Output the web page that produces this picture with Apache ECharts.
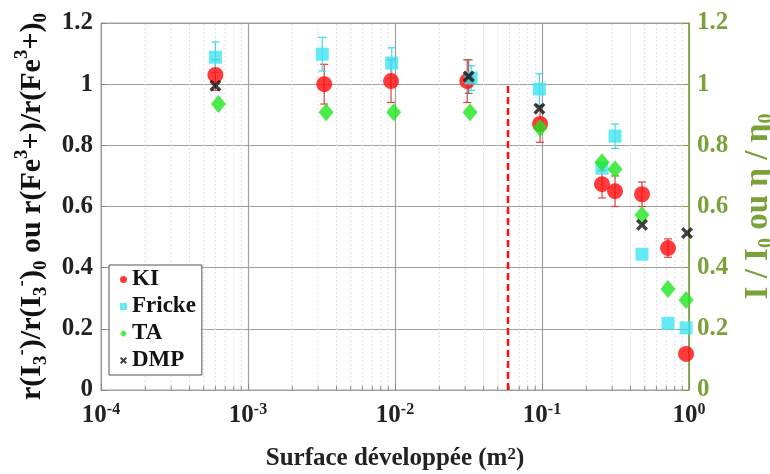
<!DOCTYPE html>
<html>
<head>
<meta charset="utf-8">
<script src="https://cdn.jsdelivr.net/npm/echarts@6/dist/echarts.min.js"></script>
<style>
html,body{margin:0;padding:0;background:#fff}
#main{width:770px;height:474px}
</style>
</head>
<body>
<div id="main"></div>
<script>
// valeurs
var kiX = [6.0e-4, 3.3e-3, 9.4e-3, 0.031, 0.097, 0.256, 0.314, 0.479, 0.72, 0.955];
var kiY = [1.03, 1.0, 1.01, 1.01, 0.87, 0.673, 0.65, 0.64, 0.464, 0.118];
var kiErr = [0.05, 0.065, 0.07, 0.07, 0.06, 0.045, 0.05, 0.04, 0.03, 0];

var frickeX = [6.0e-4, 3.2e-3, 9.5e-3, 0.033, 0.096, 0.256, 0.314, 0.479, 0.72, 0.955];
var frickeY = [1.088, 1.098, 1.069, 1.02, 0.984, 0.725, 0.83, 0.444, 0.218, 0.203];
var frickeErr = [0.05, 0.055, 0.05, 0.04, 0.05, 0, 0.04, 0, 0, 0];

var taX = [6.3e-4, 3.4e-3, 9.8e-3, 0.0324, 0.097, 0.256, 0.314, 0.479, 0.72, 0.955];
var taY = [0.935, 0.908, 0.908, 0.908, 0.857, 0.745, 0.722, 0.572, 0.33, 0.294];

var dmpX = [6.0e-4, 0.0317, 0.096, 0.479, 0.97];
var dmpY = [0.995, 1.025, 0.92, 0.54, 0.513];
var dmpErr = [0, 0.055, 0, 0, 0];

var limitX = 0.0587;     // trait rouge
var limitTop = 1.0;

var FONT = "'Liberation Serif', 'Times New Roman', serif";
var GREEN = '#7ba23a';
var GRID = '#a0a0a0';
var crossPath = 'path://M2,0L5,3L8,0L10,2L7,5L10,8L8,10L5,7L2,10L0,8L3,5L0,2Z';

function zip(xs, ys) {
	var out = [];
	for (var i = 0; i < xs.length; i++) out.push([xs[i], ys[i]]);
	return out;
}
function bars(xs, ys, es) {
	var out = [];
	for (var i = 0; i < xs.length; i++) {
		if (es[i] > 0) out.push([xs[i], ys[i] - es[i], ys[i] + es[i]]);
	}
	return out;
}
// graduations secondaires du log (2..9 x 10^k)
var minorTicks = [];
for (var k = -4; k < 0; k++) {
	for (var m = 2; m <= 9; m++) minorTicks.push([m * Math.pow(10, k), 0]);
}

function errorBar(color) {
	return function(params, api) {
		var top = api.coord([api.value(0), api.value(2)]);
		var bot = api.coord([api.value(0), api.value(1)]);
		var style = {stroke: color, lineWidth: 1.2};
		return {
			type: 'group',
			children: [
				{type: 'line', shape: {x1: top[0], y1: top[1], x2: bot[0], y2: bot[1]}, style: style},
				{type: 'line', shape: {x1: top[0] - 4, y1: top[1], x2: top[0] + 4, y2: top[1]}, style: style},
				{type: 'line', shape: {x1: bot[0] - 4, y1: bot[1], x2: bot[0] + 4, y2: bot[1]}, style: style}
			]
		};
	};
}

var myChart = echarts.init(document.getElementById('main'));

var option = {
	animation: false,
	backgroundColor: '#fff',
	grid: {left: 101, right: 81, top: 23, bottom: 84, show: true, borderColor: GRID, borderWidth: 1,
		outerBoundsMode: 'none', containLabel: false},
	legend: {
		orient: 'vertical',
		left: 109,
		top: 265,
		padding: [3, 6, 3, 11],
		itemGap: 4,
		itemWidth: 7,
		itemHeight: 7,
		itemTextGap: 13,
		borderColor: '#555',
		borderWidth: 1,
		backgroundColor: '#fff',
		selectedMode: false,
		textStyle: {fontFamily: FONT, fontWeight: 'bold', fontSize: 23, color: '#111'},
		data: [
			{name: 'KI', icon: 'circle'},
			{name: 'Fricke', icon: 'rect'},
			{name: 'TA', icon: 'diamond'},
			{name: 'DMP', icon: crossPath}
		]
	},
	xAxis: {
		type: 'log',
		logBase: 10,
		min: 1e-4,
		max: 1,
		name: 'Surface développée (m{sup|2})',
		nameLocation: 'middle',
		nameGap: 56,
		nameTextStyle: {
			fontFamily: FONT, fontWeight: 'bold', fontSize: 25, color: '#222',
			rich: {sup: {fontFamily: FONT, fontWeight: 'bold', fontSize: 17, verticalAlign: 'top', lineHeight: 14, color: '#222'}}
		},
		axisLine: {lineStyle: {color: GRID}},
		axisTick: {inside: true, length: 6, lineStyle: {color: '#888'}},
		splitLine: {show: true, lineStyle: {color: GRID, width: 1.2}},
		axisLabel: {
			margin: 12,
			formatter: function(v) {
				var e = Math.round(Math.log(v) / Math.LN10);
				return '{b|10}{e|' + e + '}';
			},
			rich: {
				b: {fontFamily: FONT, fontWeight: 'bold', fontSize: 25, color: '#222', lineHeight: 28},
				e: {fontFamily: FONT, fontWeight: 'bold', fontSize: 16, color: '#222', verticalAlign: 'top', lineHeight: 14}
			}
		}
	},
	yAxis: [{
		type: 'value',
		min: 0,
		max: 1.2,
		interval: 0.2,
		position: 'left',
		name: 'r(I{sub|3}{sup|-})/r(I{sub|3}{sup|-}){sub|0} ou r(Fe{sup|3}+)/r(Fe{sup|3}+){sub|0}',
		nameLocation: 'middle',
		nameRotate: 90,
		nameGap: 48,
		nameTextStyle: {
			fontFamily: FONT, fontWeight: 'bold', fontSize: 30, color: '#111', lineHeight: 38,
			rich: {
				sup: {fontFamily: FONT, fontWeight: 'bold', fontSize: 19, color: '#111', verticalAlign: 'top', lineHeight: 18},
				sub: {fontFamily: FONT, fontWeight: 'bold', fontSize: 19, color: '#111', verticalAlign: 'bottom', lineHeight: 18}
			}
		},
		axisLine: {show: true, lineStyle: {color: GRID}},
		axisTick: {show: true, inside: true, length: 6, lineStyle: {color: '#888'}},
		splitLine: {show: true, lineStyle: {color: GRID, width: 1.2}},
		axisLabel: {
			margin: 8,
			fontFamily: FONT, fontWeight: 'bold', fontSize: 25, color: '#222',
			formatter: function(v) { return String(Math.round(v * 10) / 10); }
		}
	}, {
		type: 'value',
		min: 0,
		max: 1.2,
		interval: 0.2,
		position: 'right',
		name: 'I / I{sub|0} ou η / η{sub|0}',
		nameLocation: 'middle',
		nameRotate: 90,
		nameGap: 48,
		nameTextStyle: {
			fontFamily: FONT, fontWeight: 'bold', fontSize: 33, color: GREEN, lineHeight: 38,
			rich: {
				sub: {fontFamily: FONT, fontWeight: 'bold', fontSize: 20, color: GREEN, verticalAlign: 'bottom', lineHeight: 18}
			}
		},
		axisLine: {show: true, lineStyle: {color: GREEN, width: 1.5}},
		axisTick: {show: true, inside: true, length: 6, lineStyle: {color: GREEN}},
		splitLine: {show: false},
		axisLabel: {
			margin: 8,
			fontFamily: FONT, fontWeight: 'bold', fontSize: 25, color: GREEN,
			formatter: function(v) { return String(Math.round(v * 10) / 10); }
		}
	}],
	series: [{
		type: 'custom',
		silent: true,
		z: 1,
		data: minorTicks,
		encode: {x: 0, y: 1},
		renderItem: function(params, api) {
			var a = api.coord([api.value(0), 0]);
			var b = api.coord([api.value(0), 1.2]);
			return {
				type: 'group',
				children: [
					{type: 'line', shape: {x1: a[0], y1: a[1], x2: b[0], y2: b[1]},
						style: {stroke: '#e0e0e0', lineWidth: 1, lineDash: [2, 2]}},
					{type: 'line', shape: {x1: a[0], y1: a[1], x2: a[0], y2: a[1] - 4},
						style: {stroke: '#888', lineWidth: 1}}
				]
			};
		}
	}, {
		type: 'line',
		silent: true,
		z: 2,
		symbol: 'none',
		data: [[limitX, 0], [limitX, limitTop]],
		lineStyle: {color: '#ff1010', width: 2.5, type: [7, 4]}
	}, {
		type: 'custom',
		silent: true,
		z: 3,
		data: bars(kiX, kiY, kiErr),
		encode: {x: 0, y: [1, 2]},
		renderItem: errorBar('#e04040')
	}, {
		type: 'custom',
		silent: true,
		z: 3,
		data: bars(frickeX, frickeY, frickeErr),
		encode: {x: 0, y: [1, 2]},
		renderItem: errorBar('#40d8e8')
	}, {
		type: 'custom',
		silent: true,
		z: 3,
		data: bars(dmpX, dmpY, dmpErr),
		encode: {x: 0, y: [1, 2]},
		renderItem: errorBar('#777')
	}, {
		name: 'KI',
		type: 'scatter',
		z: 4,
		symbol: 'circle',
		symbolSize: 16,
		itemStyle: {color: '#ff0a0a'},
		data: zip(kiX, kiY)
	}, {
		name: 'Fricke',
		type: 'scatter',
		z: 5,
		symbol: 'rect',
		symbolSize: 13,
		itemStyle: {color: '#3ee4f2'},
		data: zip(frickeX, frickeY)
	}, {
		name: 'TA',
		type: 'scatter',
		z: 6,
		symbol: 'diamond',
		symbolSize: [15, 18],
		itemStyle: {color: '#1ee61e'},
		data: zip(taX, taY)
	}, {
		name: 'DMP',
		type: 'scatter',
		z: 7,
		symbol: crossPath,
		symbolSize: 12,
		itemStyle: {color: '#111'},
		data: zip(dmpX, dmpY)
	}]
};

myChart.setOption(option);
</script>
</body>
</html>
